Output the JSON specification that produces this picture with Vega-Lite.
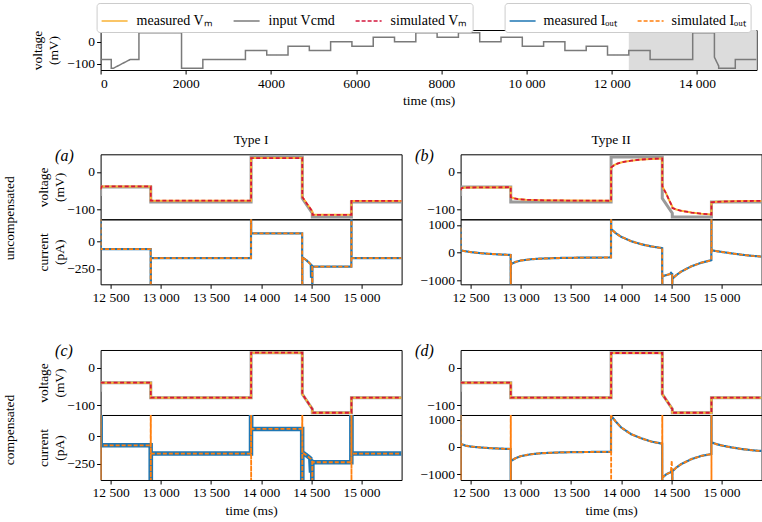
{
"$schema": "https://vega.github.io/schema/vega-lite/v6.json",
"padding": {"left": 2.6, "top": 2, "right": 0, "bottom": 0},
"config": {
 "font": "Liberation Serif",
 "view": {"stroke": "#000000", "strokeWidth": 1},
 "axis": {"grid": false, "domain": false, "tickColor": "#000000", "tickSize": 4, "labelFont": "Liberation Serif", "labelFontSize": 13.5, "labelColor": "#000000", "titleFont": "Liberation Serif", "titleFontSize": 13.5, "titleFontWeight": "normal", "titleColor": "#000000", "labelPadding": 2, "titleLineHeight": 16},
 "title": {"font": "Liberation Serif", "fontSize": 13.5, "fontWeight": "normal", "color": "#000000"},
 "legend": {"labelFont": "Liberation Serif", "labelFontSize": 14, "labelColor": "#000000"},
 "locale": {"number": {"decimal": ".", "thousands": " ", "grouping": [3], "currency": ["", ""]}}
},
"datasets": {
 "vcmd": [{"t":0,"cmd":-80},{"t":250,"cmd":-80},{"t":250,"cmd":-120},{"t":300,"cmd":-120},{"t":700,"cmd":-80},{"t":900,"cmd":-80},{"t":900,"cmd":40},{"t":1900,"cmd":40},{"t":1900,"cmd":-120},{"t":2400,"cmd":-120},{"t":2400,"cmd":-80},{"t":3400,"cmd":-80},{"t":3400,"cmd":-40},{"t":3900,"cmd":-40},{"t":3900,"cmd":-60},{"t":4400,"cmd":-60},{"t":4400,"cmd":-20},{"t":4900,"cmd":-20},{"t":4900,"cmd":-40},{"t":5400,"cmd":-40},{"t":5400,"cmd":0},{"t":5900,"cmd":0},{"t":5900,"cmd":-20},{"t":6400,"cmd":-20},{"t":6400,"cmd":20},{"t":6900,"cmd":20},{"t":6900,"cmd":0},{"t":7400,"cmd":0},{"t":7400,"cmd":40},{"t":7900,"cmd":40},{"t":7900,"cmd":20},{"t":8400,"cmd":20},{"t":8400,"cmd":40},{"t":8900,"cmd":40},{"t":8900,"cmd":0},{"t":9400,"cmd":0},{"t":9400,"cmd":20},{"t":9900,"cmd":20},{"t":9900,"cmd":-20},{"t":10400,"cmd":-20},{"t":10400,"cmd":0},{"t":10900,"cmd":0},{"t":10900,"cmd":-40},{"t":11400,"cmd":-40},{"t":11400,"cmd":-20},{"t":11900,"cmd":-20},{"t":11900,"cmd":-60},{"t":12400,"cmd":-60},{"t":12400,"cmd":-40},{"t":12900,"cmd":-40},{"t":12900,"cmd":-80},{"t":13900,"cmd":-80},{"t":13900,"cmd":40},{"t":14410,"cmd":40},{"t":14410,"cmd":-70},{"t":14510,"cmd":-110},{"t":14510,"cmd":-120},{"t":14900,"cmd":-120},{"t":14900,"cmd":-80},{"t":15400,"cmd":-80}],
 "vm": [
  {"p":"a","t":12400,"m":-46,"s":-46},{"p":"a","t":12410,"m":-38.5,"s":-38.5},{"p":"a","t":12900,"m":-38.5,"s":-38.5},{"p":"a","t":12900,"m":-76.5,"s":-76.5},{"p":"a","t":13900,"m":-76.5,"s":-76.5},{"p":"a","t":13900,"m":37,"s":37},{"p":"a","t":14410,"m":37,"s":37},{"p":"a","t":14410,"m":-66.5,"s":-66.5},{"p":"a","t":14510,"m":-105,"s":-105},{"p":"a","t":14512,"m":-114,"s":-114},{"p":"a","t":14900,"m":-114,"s":-114},{"p":"a","t":14900,"m":-77,"s":-77},{"p":"a","t":15400,"m":-77,"s":-77},
  {"p":"b","t":12400,"m":-48,"s":-48},{"p":"b","t":12410,"m":-43,"s":-43},{"p":"b","t":12450,"m":-41.5,"s":-41.5},{"p":"b","t":12900,"m":-40.5,"s":-40.5},{"p":"b","t":12900,"m":-67,"s":-67},{"p":"b","t":12930,"m":-70,"s":-70},{"p":"b","t":12970,"m":-72,"s":-72},{"p":"b","t":13050,"m":-74,"s":-74},{"p":"b","t":13200,"m":-75.3,"s":-75.3},{"p":"b","t":13500,"m":-76.2,"s":-76.2},{"p":"b","t":13900,"m":-76.6,"s":-76.6},{"p":"b","t":13900,"m":12,"s":12},{"p":"b","t":13930,"m":18,"s":18},{"p":"b","t":13970,"m":23,"s":23},{"p":"b","t":14030,"m":27,"s":27},{"p":"b","t":14100,"m":30,"s":30},{"p":"b","t":14200,"m":33,"s":33},{"p":"b","t":14300,"m":34.8,"s":34.8},{"p":"b","t":14410,"m":36,"s":36},{"p":"b","t":14410,"m":-38,"s":-38},{"p":"b","t":14450,"m":-58,"s":-58},{"p":"b","t":14480,"m":-76,"s":-76},{"p":"b","t":14510,"m":-92,"s":-92},{"p":"b","t":14512,"m":-96,"s":-96},{"p":"b","t":14550,"m":-100,"s":-100},{"p":"b","t":14600,"m":-103.5,"s":-103.5},{"p":"b","t":14700,"m":-108,"s":-108},{"p":"b","t":14800,"m":-111,"s":-111},{"p":"b","t":14900,"m":-113,"s":-113},{"p":"b","t":14900,"m":-81,"s":-81},{"p":"b","t":14950,"m":-79.5,"s":-79.5},{"p":"b","t":15050,"m":-78.3,"s":-78.3},{"p":"b","t":15200,"m":-77.5,"s":-77.5},{"p":"b","t":15400,"m":-77,"s":-77},
  {"p":"c","t":12400,"m":-40,"s":-40},{"p":"c","t":12900,"m":-40,"s":-40},{"p":"c","t":12900,"m":-80,"s":-80},{"p":"c","t":13900,"m":-80,"s":-80},{"p":"c","t":13900,"m":40,"s":40},{"p":"c","t":14410,"m":40,"s":40},{"p":"c","t":14410,"m":-70,"s":-70},{"p":"c","t":14510,"m":-110,"s":-110},{"p":"c","t":14510,"m":-120,"s":-120},{"p":"c","t":14900,"m":-120,"s":-120},{"p":"c","t":14900,"m":-80,"s":-80},{"p":"c","t":15400,"m":-80,"s":-80},
  {"p":"d","t":12400,"m":-40,"s":-40},{"p":"d","t":12900,"m":-40,"s":-40},{"p":"d","t":12900,"m":-80,"s":-80},{"p":"d","t":13900,"m":-80,"s":-80},{"p":"d","t":13900,"m":39,"s":39},{"p":"d","t":14410,"m":39,"s":39},{"p":"d","t":14410,"m":-70,"s":-70},{"p":"d","t":14510,"m":-110,"s":-110},{"p":"d","t":14510,"m":-120,"s":-120},{"p":"d","t":14900,"m":-120,"s":-120},{"p":"d","t":14900,"m":-80,"s":-80},{"p":"d","t":15400,"m":-80,"s":-80}
 ],
 "cur": [
  {"p":"a","t":12400,"mI":3000,"sI":3000},{"p":"a","t":12401,"mI":-70,"sI":-70},{"p":"a","t":12899,"mI":-70,"sI":-70},{"p":"a","t":12900,"mI":-3000,"sI":-3000},{"p":"a","t":12901,"mI":-152,"sI":-152},{"p":"a","t":13899,"mI":-152,"sI":-152},{"p":"a","t":13900,"mI":3000,"sI":3000},{"p":"a","t":13901,"mI":73,"sI":73},{"p":"a","t":14409,"mI":73,"sI":73},{"p":"a","t":14410,"mI":-3000,"sI":-3000},{"p":"a","t":14411,"mI":-145,"sI":-145},{"p":"a","t":14450,"mI":-170,"sI":-170},{"p":"a","t":14480,"mI":-195,"sI":-195},{"p":"a","t":14495,"mI":-210,"sI":-210},{"p":"a","t":14497,"mI":-330,"sI":-212},{"p":"a","t":14499,"mI":-215,"sI":-214},{"p":"a","t":14509,"mI":-222,"sI":-222},{"p":"a","t":14510,"mI":-3000,"sI":-3000},{"p":"a","t":14511,"mI":-229,"sI":-229},{"p":"a","t":14899,"mI":-229,"sI":-229},{"p":"a","t":14900,"mI":3000,"sI":3000},{"p":"a","t":14901,"mI":-152,"sI":-152},{"p":"a","t":15400,"mI":-152,"sI":-152},
  {"p":"b","t":12400,"mI":900,"sI":900},{"p":"b","t":12402,"mI":80,"sI":80},{"p":"b","t":12450,"mI":45,"sI":45},{"p":"b","t":12500,"mI":15,"sI":15},{"p":"b","t":12600,"mI":-25,"sI":-25},{"p":"b","t":12700,"mI":-52,"sI":-52},{"p":"b","t":12800,"mI":-72,"sI":-72},{"p":"b","t":12899,"mI":-88,"sI":-88},{"p":"b","t":12900,"mI":-3000,"sI":-3000},{"p":"b","t":12901,"mI":-420,"sI":-420},{"p":"b","t":12950,"mI":-340,"sI":-340},{"p":"b","t":13000,"mI":-290,"sI":-290},{"p":"b","t":13100,"mI":-245,"sI":-245},{"p":"b","t":13200,"mI":-220,"sI":-220},{"p":"b","t":13400,"mI":-198,"sI":-198},{"p":"b","t":13600,"mI":-187,"sI":-187},{"p":"b","t":13899,"mI":-180,"sI":-180},{"p":"b","t":13900,"mI":3000,"sI":3000},{"p":"b","t":13901,"mI":850,"sI":850},{"p":"b","t":13950,"mI":690,"sI":690},{"p":"b","t":14000,"mI":570,"sI":570},{"p":"b","t":14100,"mI":410,"sI":410},{"p":"b","t":14200,"mI":300,"sI":300},{"p":"b","t":14300,"mI":220,"sI":220},{"p":"b","t":14409,"mI":160,"sI":160},{"p":"b","t":14410,"mI":-3000,"sI":-3000},{"p":"b","t":14411,"mI":-860,"sI":-860},{"p":"b","t":14450,"mI":-820,"sI":-820},{"p":"b","t":14495,"mI":-775,"sI":-775},{"p":"b","t":14497,"mI":-700,"sI":-772},{"p":"b","t":14500,"mI":-770,"sI":-770},{"p":"b","t":14509,"mI":-780,"sI":-780},{"p":"b","t":14510,"mI":-3000,"sI":-3000},{"p":"b","t":14511,"mI":-950,"sI":-950},{"p":"b","t":14550,"mI":-820,"sI":-820},{"p":"b","t":14600,"mI":-690,"sI":-690},{"p":"b","t":14700,"mI":-500,"sI":-500},{"p":"b","t":14800,"mI":-370,"sI":-370},{"p":"b","t":14899,"mI":-280,"sI":-280},{"p":"b","t":14900,"mI":3000,"sI":3000},{"p":"b","t":14901,"mI":80,"sI":80},{"p":"b","t":14950,"mI":50,"sI":50},{"p":"b","t":15000,"mI":22,"sI":22},{"p":"b","t":15100,"mI":-30,"sI":-30},{"p":"b","t":15200,"mI":-80,"sI":-80},{"p":"b","t":15300,"mI":-120,"sI":-120},{"p":"b","t":15400,"mI":-148,"sI":-148},
  {"p":"c","t":12400,"mI":3000,"sI":3000},{"p":"c","t":12400.5,"mI":3000,"sI":-3000},{"p":"c","t":12400.7,"mI":3000,"sI":3000},{"p":"c","t":12401,"mI":-81,"sI":-81},{"p":"c","t":12899,"mI":-81,"sI":-81},{"p":"c","t":12900,"mI":-3000,"sI":3000},{"p":"c","t":12900.5,"mI":-3000,"sI":-3000},{"p":"c","t":12900.7,"mI":-3000,"sI":3000},{"p":"c","t":12901,"mI":-156,"sI":-156},{"p":"c","t":13899,"mI":-156,"sI":-156},{"p":"c","t":13900,"mI":3000,"sI":3000},{"p":"c","t":13900.5,"mI":3000,"sI":-3000},{"p":"c","t":13900.7,"mI":3000,"sI":3000},{"p":"c","t":13901,"mI":69,"sI":69},{"p":"c","t":14409,"mI":69,"sI":69},{"p":"c","t":14410,"mI":-3000,"sI":3000},{"p":"c","t":14410.5,"mI":-3000,"sI":-3000},{"p":"c","t":14410.7,"mI":-3000,"sI":3000},{"p":"c","t":14411,"mI":-145,"sI":-145},{"p":"c","t":14450,"mI":-170,"sI":-170},{"p":"c","t":14490,"mI":-200,"sI":-200},{"p":"c","t":14497,"mI":-330,"sI":-205},{"p":"c","t":14505,"mI":-225,"sI":-225},{"p":"c","t":14509,"mI":-228,"sI":-228},{"p":"c","t":14510,"mI":-3000,"sI":-3000},{"p":"c","t":14511,"mI":-235,"sI":-235},{"p":"c","t":14899,"mI":-235,"sI":-235},{"p":"c","t":14900,"mI":3000,"sI":3000},{"p":"c","t":14900.5,"mI":3000,"sI":-3000},{"p":"c","t":14900.7,"mI":3000,"sI":3000},{"p":"c","t":14901,"mI":-156,"sI":-156},{"p":"c","t":15400,"mI":-156,"sI":-156},
  {"p":"d","t":12400,"mI":3000,"sI":3000},{"p":"d","t":12400.5,"mI":3000,"sI":-3000},{"p":"d","t":12400.7,"mI":3000,"sI":3000},{"p":"d","t":12402,"mI":110,"sI":110},{"p":"d","t":12450,"mI":50,"sI":50},{"p":"d","t":12500,"mI":15,"sI":15},{"p":"d","t":12600,"mI":-20,"sI":-20},{"p":"d","t":12700,"mI":-45,"sI":-45},{"p":"d","t":12800,"mI":-62,"sI":-62},{"p":"d","t":12899,"mI":-75,"sI":-75},{"p":"d","t":12900,"mI":-3000,"sI":3000},{"p":"d","t":12900.5,"mI":-3000,"sI":-3000},{"p":"d","t":12900.7,"mI":-3000,"sI":3000},{"p":"d","t":12901,"mI":-520,"sI":-520},{"p":"d","t":12950,"mI":-410,"sI":-410},{"p":"d","t":13000,"mI":-340,"sI":-340},{"p":"d","t":13100,"mI":-270,"sI":-270},{"p":"d","t":13200,"mI":-232,"sI":-232},{"p":"d","t":13400,"mI":-200,"sI":-200},{"p":"d","t":13600,"mI":-188,"sI":-188},{"p":"d","t":13899,"mI":-180,"sI":-180},{"p":"d","t":13900,"mI":3000,"sI":3000},{"p":"d","t":13900.5,"mI":3000,"sI":-3000},{"p":"d","t":13900.7,"mI":3000,"sI":3000},{"p":"d","t":13901,"mI":1150,"sI":1150},{"p":"d","t":13950,"mI":920,"sI":920},{"p":"d","t":14000,"mI":720,"sI":720},{"p":"d","t":14100,"mI":470,"sI":470},{"p":"d","t":14200,"mI":320,"sI":320},{"p":"d","t":14300,"mI":200,"sI":200},{"p":"d","t":14409,"mI":120,"sI":120},{"p":"d","t":14410,"mI":-3000,"sI":3000},{"p":"d","t":14410.5,"mI":-3000,"sI":-3000},{"p":"d","t":14410.7,"mI":-3000,"sI":3000},{"p":"d","t":14411,"mI":-1130,"sI":-1130},{"p":"d","t":14450,"mI":-1010,"sI":-1010},{"p":"d","t":14495,"mI":-930,"sI":-930},{"p":"d","t":14505,"mI":-920,"sI":-500},{"p":"d","t":14507,"mI":-920,"sI":-920},{"p":"d","t":14509,"mI":-910,"sI":-910},{"p":"d","t":14510,"mI":-3000,"sI":-3000},{"p":"d","t":14511,"mI":-900,"sI":-900},{"p":"d","t":14550,"mI":-760,"sI":-760},{"p":"d","t":14600,"mI":-630,"sI":-630},{"p":"d","t":14700,"mI":-450,"sI":-450},{"p":"d","t":14800,"mI":-330,"sI":-330},{"p":"d","t":14899,"mI":-262,"sI":-262},{"p":"d","t":14900,"mI":3000,"sI":3000},{"p":"d","t":14900.5,"mI":3000,"sI":-3000},{"p":"d","t":14900.7,"mI":3000,"sI":3000},{"p":"d","t":14901,"mI":170,"sI":170},{"p":"d","t":14950,"mI":105,"sI":105},{"p":"d","t":15000,"mI":55,"sI":55},{"p":"d","t":15100,"mI":-15,"sI":-15},{"p":"d","t":15200,"mI":-75,"sI":-75},{"p":"d","t":15300,"mI":-120,"sI":-120},{"p":"d","t":15400,"mI":-150,"sI":-150}
 ]
},
"resolve": {"scale": {"color": "independent", "strokeDash": "independent"}, "legend": {"color": "independent", "strokeDash": "independent"}},
"bounds": "flush",
"spacing": 84.3,
"vconcat": [
 {
  "width": 656, "height": 40,
  "layer": [
   {"data": {"values": [{"start": 12400, "end": 15400}]}, "mark": {"type": "rect", "color": "#dcdcdc"},
    "encoding": {"x": {"field": "start", "type": "quantitative", "scale": {"domain": [0, 15400], "nice": false, "zero": false}, "axis": {"values": [0,2000,4000,6000,8000,10000,12000,14000], "labelExpr": "datum.value >= 10000 ? format(datum.value, ',') : format(datum.value, 'd')", "title": "time (ms)"}}, "x2": {"field": "end"}}},
   {"data": {"name": "vcmd"}, "transform": [{"fold": ["cmd"], "as": ["k", "y"]}],
    "mark": {"type": "line", "strokeWidth": 1.5, "clip": true},
    "encoding": {
     "x": {"field": "t", "type": "quantitative", "scale": {"domain": [0, 15400], "nice": false, "zero": false}},
     "y": {"field": "y", "type": "quantitative", "scale": {"domain": [-128, 53], "nice": false, "zero": false}, "axis": {"values": [0, -100], "format": "d", "title": ["voltage", "(mV)"], "titlePadding": 6}},
     "color": {"field": "k", "type": "nominal", "scale": {"domain": ["mV", "cmd", "sV"], "range": ["#f9b233", "#7a7a7a", "#d4163c"]}, "legend": {"orient": "none", "legendX": -4, "legendY": -27, "direction": "horizontal", "title": null, "strokeColor": "#cccccc", "cornerRadius": 3, "padding": 4, "fillColor": "#ffffff", "symbolType": "stroke", "symbolSize": 676, "symbolStrokeWidth": 1.6, "labelOffset": 8, "columnPadding": 16, "labelExpr": "datum.label == 'mV' ? 'measured Vₘ' : datum.label == 'cmd' ? 'input Vcmd' : 'simulated Vₘ'"}},
     "strokeDash": {"field": "k", "type": "nominal", "scale": {"domain": ["mV", "cmd", "sV"], "range": [[1, 0], [1, 0], [4, 2]]}, "legend": {"orient": "none", "legendX": -4, "legendY": -27, "direction": "horizontal", "title": null, "strokeColor": "#cccccc", "cornerRadius": 3, "padding": 4, "fillColor": "#ffffff", "symbolType": "stroke", "symbolSize": 676, "symbolStrokeWidth": 1.6, "labelOffset": 8, "columnPadding": 16, "labelExpr": "datum.label == 'mV' ? 'measured Vₘ' : datum.label == 'cmd' ? 'input Vcmd' : 'simulated Vₘ'"}},
     "order": {"value": null}
    }}
  ]
 },
 {
  "bounds": "flush",
  "spacing": 195.7,
  "vconcat": [
   {"bounds": "flush", "spacing": 360, "hconcat": [
    {"bounds": "flush", "spacing": 0, "title": {"text": "uncompensated", "orient": "left", "anchor": "middle", "offset": 19.5}, "vconcat": [
     {"width": 301, "height": 65, "title": {"text": "Type I", "offset": 1},
      "layer": [
       {"data": {"name": "vcmd"}, "mark": {"type": "line", "color": "#9a9a9a", "strokeWidth": 3, "clip": true},
        "encoding": {"x": {"field": "t", "type": "quantitative", "scale": {"domain": [12400, 15400], "nice": false, "zero": false}, "axis": {"orient": "top", "labels": false, "ticks": false, "title": "(a)", "titleX": -46, "titleY": 6, "titleAngle": 0, "titleAlign": "left", "titleBaseline": "alphabetic", "titleFontStyle": "italic", "titleFontSize": 16}},
         "y": {"field": "cmd", "type": "quantitative", "scale": {"domain": [-126, 47], "nice": false, "zero": false}, "axis": {"values": [0, -100], "format": "d", "title": ["voltage", "(mV)"], "titlePadding": 0.5}}, "order": {"value": null}}},
       {"data": {"name": "vm"}, "transform": [{"filter": "datum.p == 'a'"}], "mark": {"type": "line", "color": "#f9b233", "strokeWidth": 2, "clip": true},
        "encoding": {"x": {"field": "t", "type": "quantitative"}, "y": {"field": "m", "type": "quantitative"}, "order": {"value": null}}},
       {"data": {"name": "vm"}, "transform": [{"filter": "datum.p == 'a'"}], "mark": {"type": "line", "color": "#d4163c", "strokeWidth": 1.8, "strokeDash": [4, 2.5], "clip": true},
        "encoding": {"x": {"field": "t", "type": "quantitative"}, "y": {"field": "s", "type": "quantitative"}, "order": {"value": null}}}
      ]},
     {"width": 301, "height": 65, "data": {"name": "cur"}, "transform": [{"filter": "datum.p == 'a'"}, {"fold": ["mI", "sI"], "as": ["k", "y"]}],
      "encoding": {
       "x": {"field": "t", "type": "quantitative", "scale": {"domain": [12400, 15400], "nice": false, "zero": false}, "axis": {"values": [12500,13000,13500,14000,14500,15000], "format": ",d", "title": null}},
       "y": {"field": "y", "type": "quantitative", "scale": {"domain": [-390, 201], "nice": false, "zero": false}, "axis": {"values": [0, -250], "format": "d", "title": ["current", "(pA)"], "titlePadding": 0.5}},
       "color": {"field": "k", "type": "nominal", "scale": {"domain": ["mI", "sI"], "range": ["#1f77b4", "#ff7f0e"]}, "legend": {"orient": "none", "legendX": 404, "legendY": -151.3, "direction": "horizontal", "title": null, "strokeColor": "#cccccc", "cornerRadius": 3, "padding": 4, "fillColor": "#ffffff", "symbolType": "stroke", "symbolSize": 676, "symbolStrokeWidth": 1.6, "labelOffset": 7, "columnPadding": 16, "labelExpr": "datum.label == 'mI' ? 'measured Iₒᵤₜ' : 'simulated Iₒᵤₜ'"}},
       "strokeDash": {"field": "k", "type": "nominal", "scale": {"domain": ["mI", "sI"], "range": [[1, 0], [4, 2]]}, "legend": {"orient": "none", "legendX": 404, "legendY": -151.3, "direction": "horizontal", "title": null, "strokeColor": "#cccccc", "cornerRadius": 3, "padding": 4, "fillColor": "#ffffff", "symbolType": "stroke", "symbolSize": 676, "symbolStrokeWidth": 1.6, "labelOffset": 7, "columnPadding": 16, "labelExpr": "datum.label == 'mI' ? 'measured Iₒᵤₜ' : 'simulated Iₒᵤₜ'"}},
       "order": {"value": null}
      },
      "layer": [
       {"transform": [{"filter": "datum.k == 'mI'"}], "mark": {"type": "line", "strokeWidth": 2.2, "clip": true}},
       {"transform": [{"filter": "datum.k == 'sI'"}], "mark": {"type": "line", "strokeWidth": 1.8, "clip": true}}
      ]}
    ]},
    {"bounds": "flush", "spacing": 0, "vconcat": [
     {"width": 301, "height": 65, "title": {"text": "Type II", "offset": 1},
      "layer": [
       {"data": {"name": "vcmd"}, "mark": {"type": "line", "color": "#9a9a9a", "strokeWidth": 3, "clip": true},
        "encoding": {"x": {"field": "t", "type": "quantitative", "scale": {"domain": [12400, 15400], "nice": false, "zero": false}, "axis": {"orient": "top", "labels": false, "ticks": false, "title": "(b)", "titleX": -46, "titleY": 6, "titleAngle": 0, "titleAlign": "left", "titleBaseline": "alphabetic", "titleFontStyle": "italic", "titleFontSize": 16}},
         "y": {"field": "cmd", "type": "quantitative", "scale": {"domain": [-126, 47], "nice": false, "zero": false}, "axis": {"values": [0, -100], "format": "d", "title": null}}, "order": {"value": null}}},
       {"data": {"name": "vm"}, "transform": [{"filter": "datum.p == 'b'"}], "mark": {"type": "line", "color": "#f9b233", "strokeWidth": 2, "clip": true},
        "encoding": {"x": {"field": "t", "type": "quantitative"}, "y": {"field": "m", "type": "quantitative"}, "order": {"value": null}}},
       {"data": {"name": "vm"}, "transform": [{"filter": "datum.p == 'b'"}], "mark": {"type": "line", "color": "#d4163c", "strokeWidth": 1.8, "strokeDash": [4, 2.5], "clip": true},
        "encoding": {"x": {"field": "t", "type": "quantitative"}, "y": {"field": "s", "type": "quantitative"}, "order": {"value": null}}}
      ]},
     {"width": 301, "height": 65, "data": {"name": "cur"}, "transform": [{"filter": "datum.p == 'b'"}, {"fold": ["mI", "sI"], "as": ["k", "y"]}],
      "encoding": {
       "x": {"field": "t", "type": "quantitative", "scale": {"domain": [12400, 15400], "nice": false, "zero": false}, "axis": {"values": [12500,13000,13500,14000,14500,15000], "format": ",d", "title": null}},
       "y": {"field": "y", "type": "quantitative", "scale": {"domain": [-1153, 1204], "nice": false, "zero": false}, "axis": {"values": [-1000, 0, 1000], "format": "d", "title": null}},
       "color": {"field": "k", "type": "nominal", "scale": {"domain": ["mI", "sI"], "range": ["#1f77b4", "#ff7f0e"]}, "legend": {"orient": "none", "legendX": 404, "legendY": -151.3, "direction": "horizontal", "title": null, "strokeColor": "#cccccc", "cornerRadius": 3, "padding": 4, "fillColor": "#ffffff", "symbolType": "stroke", "symbolSize": 676, "symbolStrokeWidth": 1.6, "labelOffset": 7, "columnPadding": 16, "labelExpr": "datum.label == 'mI' ? 'measured Iₒᵤₜ' : 'simulated Iₒᵤₜ'"}},
       "strokeDash": {"field": "k", "type": "nominal", "scale": {"domain": ["mI", "sI"], "range": [[1, 0], [4, 2]]}, "legend": {"orient": "none", "legendX": 404, "legendY": -151.3, "direction": "horizontal", "title": null, "strokeColor": "#cccccc", "cornerRadius": 3, "padding": 4, "fillColor": "#ffffff", "symbolType": "stroke", "symbolSize": 676, "symbolStrokeWidth": 1.6, "labelOffset": 7, "columnPadding": 16, "labelExpr": "datum.label == 'mI' ? 'measured Iₒᵤₜ' : 'simulated Iₒᵤₜ'"}},
       "order": {"value": null}
      },
      "layer": [
       {"transform": [{"filter": "datum.k == 'mI'"}], "mark": {"type": "line", "strokeWidth": 2.2, "clip": true}},
       {"transform": [{"filter": "datum.k == 'sI'"}], "mark": {"type": "line", "strokeWidth": 1.8, "clip": true}}
      ]}
    ]}
   ]},
   {"bounds": "flush", "spacing": 360, "hconcat": [
    {"bounds": "flush", "spacing": 0, "title": {"text": "compensated", "orient": "left", "anchor": "middle", "offset": 19.5}, "vconcat": [
     {"width": 301, "height": 65,
      "layer": [
       {"data": {"name": "vcmd"}, "mark": {"type": "line", "color": "#9a9a9a", "strokeWidth": 3, "clip": true},
        "encoding": {"x": {"field": "t", "type": "quantitative", "scale": {"domain": [12400, 15400], "nice": false, "zero": false}, "axis": {"orient": "top", "labels": false, "ticks": false, "title": "(c)", "titleX": -46, "titleY": 6, "titleAngle": 0, "titleAlign": "left", "titleBaseline": "alphabetic", "titleFontStyle": "italic", "titleFontSize": 16}},
         "y": {"field": "cmd", "type": "quantitative", "scale": {"domain": [-126, 47], "nice": false, "zero": false}, "axis": {"values": [0, -100], "format": "d", "title": ["voltage", "(mV)"], "titlePadding": 0.5}}, "order": {"value": null}}},
       {"data": {"name": "vm"}, "transform": [{"filter": "datum.p == 'c'"}], "mark": {"type": "line", "color": "#f9b233", "strokeWidth": 2, "clip": true},
        "encoding": {"x": {"field": "t", "type": "quantitative"}, "y": {"field": "m", "type": "quantitative"}, "order": {"value": null}}},
       {"data": {"name": "vm"}, "transform": [{"filter": "datum.p == 'c'"}], "mark": {"type": "line", "color": "#d4163c", "strokeWidth": 1.8, "strokeDash": [4, 2.5], "clip": true},
        "encoding": {"x": {"field": "t", "type": "quantitative"}, "y": {"field": "s", "type": "quantitative"}, "order": {"value": null}}}
      ]},
     {"width": 301, "height": 65, "data": {"name": "cur"}, "transform": [{"filter": "datum.p == 'c'"}, {"fold": ["mI", "sI"], "as": ["k", "y"]}],
      "encoding": {
       "x": {"field": "t", "type": "quantitative", "scale": {"domain": [12400, 15400], "nice": false, "zero": false}, "axis": {"values": [12500,13000,13500,14000,14500,15000], "format": ",d", "title": "time (ms)"}},
       "y": {"field": "y", "type": "quantitative", "scale": {"domain": [-397, 196], "nice": false, "zero": false}, "axis": {"values": [0, -250], "format": "d", "title": ["current", "(pA)"], "titlePadding": 0.5}},
       "color": {"field": "k", "type": "nominal", "scale": {"domain": ["mI", "sI"], "range": ["#1f77b4", "#ff7f0e"]}, "legend": {"orient": "none", "legendX": 404, "legendY": -151.3, "direction": "horizontal", "title": null, "strokeColor": "#cccccc", "cornerRadius": 3, "padding": 4, "fillColor": "#ffffff", "symbolType": "stroke", "symbolSize": 676, "symbolStrokeWidth": 1.6, "labelOffset": 7, "columnPadding": 16, "labelExpr": "datum.label == 'mI' ? 'measured Iₒᵤₜ' : 'simulated Iₒᵤₜ'"}},
       "strokeDash": {"field": "k", "type": "nominal", "scale": {"domain": ["mI", "sI"], "range": [[1, 0], [4, 2]]}, "legend": {"orient": "none", "legendX": 404, "legendY": -151.3, "direction": "horizontal", "title": null, "strokeColor": "#cccccc", "cornerRadius": 3, "padding": 4, "fillColor": "#ffffff", "symbolType": "stroke", "symbolSize": 676, "symbolStrokeWidth": 1.6, "labelOffset": 7, "columnPadding": 16, "labelExpr": "datum.label == 'mI' ? 'measured Iₒᵤₜ' : 'simulated Iₒᵤₜ'"}},
       "order": {"value": null}
      },
      "layer": [
       {"transform": [{"filter": "datum.k == 'mI'"}], "mark": {"type": "line", "strokeWidth": 4.5, "clip": true}},
       {"transform": [{"filter": "datum.k == 'sI'"}], "mark": {"type": "line", "strokeWidth": 1.8, "clip": true}}
      ]}
    ]},
    {"bounds": "flush", "spacing": 0, "vconcat": [
     {"width": 301, "height": 65,
      "layer": [
       {"data": {"name": "vcmd"}, "mark": {"type": "line", "color": "#9a9a9a", "strokeWidth": 3, "clip": true},
        "encoding": {"x": {"field": "t", "type": "quantitative", "scale": {"domain": [12400, 15400], "nice": false, "zero": false}, "axis": {"orient": "top", "labels": false, "ticks": false, "title": "(d)", "titleX": -46, "titleY": 6, "titleAngle": 0, "titleAlign": "left", "titleBaseline": "alphabetic", "titleFontStyle": "italic", "titleFontSize": 16}},
         "y": {"field": "cmd", "type": "quantitative", "scale": {"domain": [-126, 47], "nice": false, "zero": false}, "axis": {"values": [0, -100], "format": "d", "title": null}}, "order": {"value": null}}},
       {"data": {"name": "vm"}, "transform": [{"filter": "datum.p == 'd'"}], "mark": {"type": "line", "color": "#f9b233", "strokeWidth": 2, "clip": true},
        "encoding": {"x": {"field": "t", "type": "quantitative"}, "y": {"field": "m", "type": "quantitative"}, "order": {"value": null}}},
       {"data": {"name": "vm"}, "transform": [{"filter": "datum.p == 'd'"}], "mark": {"type": "line", "color": "#d4163c", "strokeWidth": 1.8, "strokeDash": [4, 2.5], "clip": true},
        "encoding": {"x": {"field": "t", "type": "quantitative"}, "y": {"field": "s", "type": "quantitative"}, "order": {"value": null}}}
      ]},
     {"width": 301, "height": 65, "data": {"name": "cur"}, "transform": [{"filter": "datum.p == 'd'"}, {"fold": ["mI", "sI"], "as": ["k", "y"]}],
      "encoding": {
       "x": {"field": "t", "type": "quantitative", "scale": {"domain": [12400, 15400], "nice": false, "zero": false}, "axis": {"values": [12500,13000,13500,14000,14500,15000], "format": ",d", "title": "time (ms)"}},
       "y": {"field": "y", "type": "quantitative", "scale": {"domain": [-1220, 1180], "nice": false, "zero": false}, "axis": {"values": [-1000, 0, 1000], "format": "d", "title": null}},
       "color": {"field": "k", "type": "nominal", "scale": {"domain": ["mI", "sI"], "range": ["#1f77b4", "#ff7f0e"]}, "legend": {"orient": "none", "legendX": 404, "legendY": -151.3, "direction": "horizontal", "title": null, "strokeColor": "#cccccc", "cornerRadius": 3, "padding": 4, "fillColor": "#ffffff", "symbolType": "stroke", "symbolSize": 676, "symbolStrokeWidth": 1.6, "labelOffset": 7, "columnPadding": 16, "labelExpr": "datum.label == 'mI' ? 'measured Iₒᵤₜ' : 'simulated Iₒᵤₜ'"}},
       "strokeDash": {"field": "k", "type": "nominal", "scale": {"domain": ["mI", "sI"], "range": [[1, 0], [4, 2]]}, "legend": {"orient": "none", "legendX": 404, "legendY": -151.3, "direction": "horizontal", "title": null, "strokeColor": "#cccccc", "cornerRadius": 3, "padding": 4, "fillColor": "#ffffff", "symbolType": "stroke", "symbolSize": 676, "symbolStrokeWidth": 1.6, "labelOffset": 7, "columnPadding": 16, "labelExpr": "datum.label == 'mI' ? 'measured Iₒᵤₜ' : 'simulated Iₒᵤₜ'"}},
       "order": {"value": null}
      },
      "layer": [
       {"transform": [{"filter": "datum.k == 'mI'"}], "mark": {"type": "line", "strokeWidth": 2.2, "clip": true}},
       {"transform": [{"filter": "datum.k == 'sI'"}], "mark": {"type": "line", "strokeWidth": 1.8, "clip": true}}
      ]}
    ]}
   ]}
  ]
 }
]
}
